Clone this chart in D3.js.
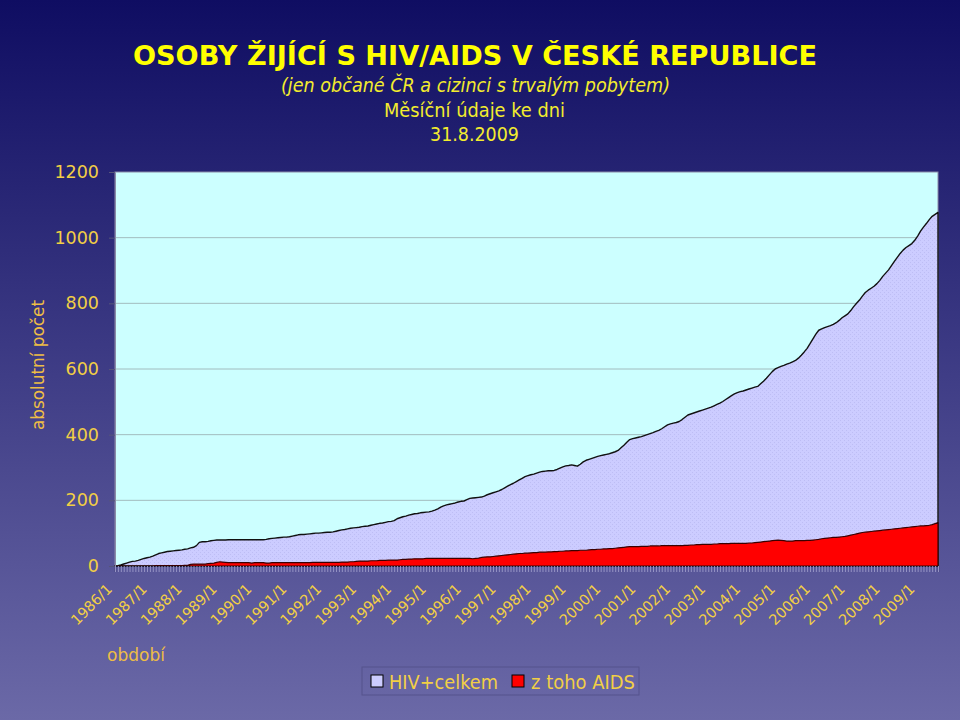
<!DOCTYPE html>
<html><head><meta charset="utf-8">
<script src="https://cdn.jsdelivr.net/npm/d3@7"></script>
<style>body{margin:0;background:#fff;} svg{display:block;}</style>
</head><body>
<svg id="c" width="960" height="720"></svg>
<script>
// ---- data (monthly, 1986/1 .. 2009/8) ----
const years = d3.range(1986, 2010);
const lastMonth2009 = 8;
const hivTotal = [
/*1986*/ 0,1,3,6,9,12,14,15,17,20,23,25,
/*1987*/ 27,30,34,38,40,42,44,45,46,47,48,49,
/*1988*/ 51,52,55,57,62,72,74,74,75,77,78,79,
/*1989*/ 79,79,79,80,80,80,80,80,80,80,80,80,
/*1990*/ 80,80,80,80,81,83,84,85,86,87,88,88,
/*1991*/ 89,91,93,95,96,96,97,98,99,100,100,101,
/*1992*/ 102,103,103,104,106,108,110,111,113,115,116,117,
/*1993*/ 118,120,121,122,124,126,128,130,131,133,135,136,
/*1994*/ 138,144,147,150,152,155,157,159,160,162,163,164,
/*1995*/ 165,167,170,174,179,183,186,188,190,192,195,197,
/*1996*/ 198,202,206,207,208,209,210,213,217,220,223,226,
/*1997*/ 229,233,238,243,248,252,257,262,267,272,275,278,
/*1998*/ 280,283,286,288,289,290,290,291,294,298,302,305,
/*1999*/ 306,308,306,304,310,317,322,325,328,331,334,336,
/*2000*/ 338,340,342,345,348,352,360,368,377,385,388,390,
/*2001*/ 392,394,397,400,403,406,410,413,418,424,430,433,
/*2002*/ 435,437,440,446,453,460,463,466,469,472,475,478,
/*2003*/ 481,484,488,492,496,501,507,513,519,524,528,531,
/*2004*/ 533,536,539,542,545,547,555,563,572,582,592,600,
/*2005*/ 604,608,611,615,618,622,626,633,642,652,663,677,
/*2006*/ 692,706,718,722,726,729,732,736,741,748,756,762,
/*2007*/ 768,778,790,800,810,822,833,840,846,852,860,870,
/*2008*/ 882,892,902,915,928,940,952,962,970,976,982,992,
/*2009*/ 1005,1020,1032,1043,1055,1065,1071,1077
];
const aidsTotal = [
/*1986*/ 0,0,0,0,0,0,0,0,0,0,0,0,
/*1987*/ 0,0,1,1,1,1,1,1,1,1,1,1,
/*1988*/ 2,2,5,6,6,6,6,6,7,8,9,11,
/*1989*/ 13,12,11,10,10,10,10,10,10,10,10,9,
/*1990*/ 10,10,10,10,9,9,10,10,10,10,10,10,
/*1991*/ 10,10,10,10,10,10,10,10,11,11,11,11,
/*1992*/ 11,11,11,11,11,11,12,12,12,13,13,14,
/*1993*/ 15,15,15,15,16,16,16,17,17,17,18,18,
/*1994*/ 18,18,19,20,20,21,21,22,22,22,22,23,
/*1995*/ 23,23,23,23,23,23,23,23,23,23,23,23,
/*1996*/ 23,23,23,22,23,24,26,27,28,28,29,30,
/*1997*/ 31,32,33,34,35,36,37,38,38,39,39,40,
/*1998*/ 41,41,42,42,42,43,43,44,44,45,45,46,
/*1999*/ 46,47,47,47,48,48,48,49,50,50,51,51,
/*2000*/ 52,52,53,53,54,55,56,57,58,59,59,59,
/*2001*/ 59,60,60,60,61,61,61,61,62,62,62,62,
/*2002*/ 62,62,62,62,63,63,64,64,65,65,66,66,
/*2003*/ 66,66,67,67,68,68,68,68,69,69,69,69,
/*2004*/ 69,69,70,70,71,72,73,74,75,76,77,78,
/*2005*/ 79,78,77,76,76,76,77,77,77,77,78,78,
/*2006*/ 79,80,81,83,84,85,86,87,87,88,89,90,
/*2007*/ 92,94,96,98,100,102,103,104,105,106,107,108,
/*2008*/ 109,110,111,112,113,114,115,116,117,118,119,120,
/*2009*/ 121,122,122,123,124,126,129,132
];
const yTicks = [0,200,400,600,800,1000,1200];
const titleText = "OSOBY ŽIJÍCÍ S HIV/AIDS V ČESKÉ REPUBLICE";
const subtitleText = "(jen občané ČR a cizinci s trvalým pobytem)";
const subtitle2Text = "Měsíční údaje ke dni";
const dateText = "31.8.2009";
const yTitle = "absolutní počet";
const xTitle = "období";
const seriesNames = ["HIV+celkem", "z toho AIDS"];

// categories
const categories = [];
years.forEach(yr => {
  const nm = yr === 2009 ? lastMonth2009 : 12;
  for (let m = 1; m <= nm; m++) categories.push(yr + "/" + m);
});
const yearLabels = years.map(y => y + "/1");
const data = categories.map((c, i) => ({c, hiv: hivTotal[i], aids: aidsTotal[i]}));

// ---- drawing ----
const svg = d3.select("#c");
const defs = svg.append("defs");
const g = defs.append("linearGradient").attr("id","bg").attr("x1",0).attr("y1",0).attr("x2",0).attr("y2",1);
g.append("stop").attr("offset","0%").attr("stop-color","#0f0d62");
g.append("stop").attr("offset","100%").attr("stop-color","#6b69a7");
const pat = defs.append("pattern").attr("id","dots").attr("patternUnits","userSpaceOnUse").attr("width",4).attr("height",4);
pat.append("rect").attr("width",4).attr("height",4).attr("fill","#ccccff");
pat.append("rect").attr("x",0).attr("y",0).attr("width",1).attr("height",1).attr("fill","#bdbdf4");
pat.append("rect").attr("x",2).attr("y",2).attr("width",1).attr("height",1).attr("fill","#bdbdf4");

svg.append("rect").attr("width",960).attr("height",720).attr("fill","url(#bg)");

const L = 115, R = 938, T = 172, B = 566;
const x = d3.scalePoint().domain(categories).range([L, R]);
const y = d3.scaleLinear().domain([0, 1200]).range([B, T]);

svg.append("rect").attr("x",L).attr("y",T).attr("width",R-L).attr("height",B-T)
  .attr("fill","#ccffff").attr("stroke","#8a8aa8").attr("stroke-width",1);

// gridlines
svg.append("g").selectAll("line").data(yTicks.filter(d => d > 0 && d < 1200)).join("line")
  .attr("x1",L).attr("x2",R).attr("y1",d=>y(d)).attr("y2",d=>y(d))
  .attr("stroke","#a2bcbe").attr("stroke-width",1);

// areas
const areaHiv = d3.area().x(d=>x(d.c)).y0(y(0)).y1(d=>y(d.hiv));
const areaAids = d3.area().x(d=>x(d.c)).y0(y(0)).y1(d=>y(d.aids));
svg.append("path").datum(data).attr("d",areaHiv)
  .attr("fill","url(#dots)").attr("stroke","#111").attr("stroke-width",1.4).attr("stroke-linejoin","round");
svg.append("path").datum(data).attr("d",areaAids)
  .attr("fill","#ff0000").attr("stroke","#3a0000").attr("stroke-width",1.2).attr("stroke-linejoin","round");

// y axis
const yAxis = d3.axisLeft(y).tickValues(yTicks).tickFormat(d3.format("d"))
  .tickSizeInner(6).tickSizeOuter(0).tickPadding(10);
const ya = svg.append("g").attr("transform",`translate(${L},0)`).call(yAxis);
ya.select(".domain").attr("stroke","#8a8aa8");
ya.selectAll(".tick line").attr("stroke","#55557a");
ya.selectAll(".tick text").attr("fill","#f2cf45").attr("font-family","DejaVu Sans, sans-serif").attr("font-size",17.5);

// x axis: monthly ticks
const xAxis = d3.axisBottom(x).tickValues(categories).tickSize(6).tickFormat("");
const xa = svg.append("g").attr("transform",`translate(0,${B})`).call(xAxis);
xa.select(".domain").attr("stroke","#1a1a2a").attr("stroke-width",1.2);
xa.selectAll(".tick line").attr("stroke","#9593c4").attr("stroke-width",1);

// x labels
svg.append("g").selectAll("text").data(yearLabels).join("text")
  .attr("transform", d => `translate(${x(d)-2},590) rotate(-45)`)
  .attr("text-anchor","end")
  .attr("fill","#f2cf45").attr("font-family","DejaVu Sans, sans-serif").attr("font-size",14.5)
  .text(d => d);

// titles
const font = "DejaVu Sans, sans-serif";
svg.append("text").attr("x",475).attr("y",65).attr("text-anchor","middle")
  .attr("font-family",font).attr("font-weight","bold").attr("font-size",26)
  .attr("textLength",684).attr("lengthAdjust","spacingAndGlyphs")
  .attr("fill","#ffff00").text(titleText);
svg.append("text").attr("x",475.5).attr("y",92).attr("text-anchor","middle")
  .attr("font-family",font).attr("font-style","italic").attr("font-size",19)
  .attr("textLength",389).attr("lengthAdjust","spacingAndGlyphs")
  .attr("fill","#f3ec2e").text(subtitleText);
svg.append("text").attr("x",474.5).attr("y",117).attr("text-anchor","middle")
  .attr("font-family",font).attr("font-size",19)
  .attr("textLength",181).attr("lengthAdjust","spacingAndGlyphs")
  .attr("fill","#f3ec2e").text(subtitle2Text);
svg.append("text").attr("x",474.5).attr("y",141).attr("text-anchor","middle")
  .attr("font-family",font).attr("font-size",19)
  .attr("textLength",89).attr("lengthAdjust","spacingAndGlyphs")
  .attr("fill","#f3ec2e").text(dateText);

// axis titles
svg.append("text").attr("transform","translate(44,365) rotate(-90)").attr("text-anchor","middle")
  .attr("font-family",font).attr("font-size",18)
  .attr("textLength",130).attr("lengthAdjust","spacingAndGlyphs")
  .attr("fill","#eebd45").text(yTitle);
svg.append("text").attr("x",107).attr("y",661)
  .attr("font-family",font).attr("font-size",18)
  .attr("textLength",58).attr("lengthAdjust","spacingAndGlyphs")
  .attr("fill","#eebd45").text(xTitle);

// legend
const lg = svg.append("g");
lg.append("rect").attr("x",362).attr("y",667).attr("width",277).attr("height",28)
  .attr("fill","none").attr("stroke","#55538c").attr("stroke-width",1);
const items = [
  {name: seriesNames[0], fill: "#ccccff", sx: 371, tx: 389, tl: 109},
  {name: seriesNames[1], fill: "#ff0000", sx: 512, tx: 531, tl: 104}
];
items.forEach(it => {
  lg.append("rect").attr("x",it.sx).attr("y",675).attr("width",12).attr("height",12)
    .attr("fill",it.fill).attr("stroke","#000").attr("stroke-width",1);
  lg.append("text").attr("x",it.tx).attr("y",689)
    .attr("font-family",font).attr("font-size",19)
    .attr("textLength",it.tl).attr("lengthAdjust","spacingAndGlyphs")
    .attr("fill","#f2cf45").text(it.name);
});
</script>
</body></html>
